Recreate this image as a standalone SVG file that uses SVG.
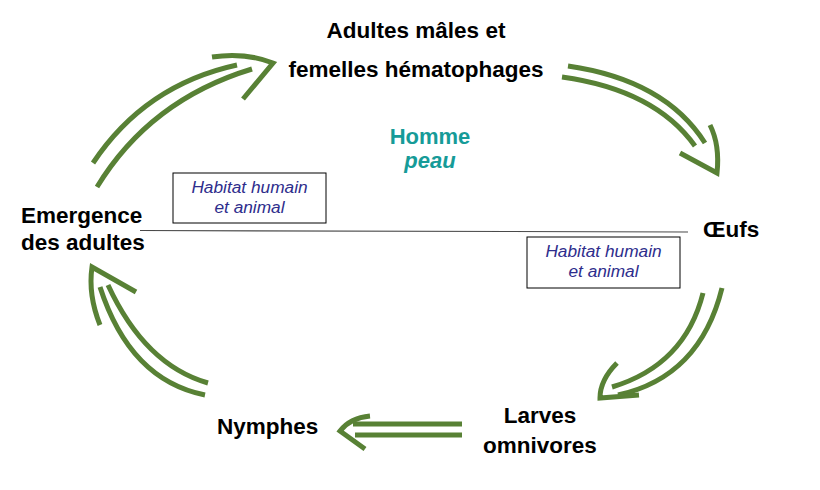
<svg xmlns="http://www.w3.org/2000/svg" width="820" height="490" viewBox="0 0 820 490">
<style>
.lbl{font-family:"Liberation Sans",Arial,sans-serif;font-weight:bold;font-size:22.5px;fill:#000}
.host{font-family:"Liberation Sans",Arial,sans-serif;font-weight:bold;font-size:22px;fill:#169b98}
.hab{font-family:"Liberation Sans",Arial,sans-serif;font-style:italic;font-size:17.3px;fill:#2e2d8c}
.box{fill:#fff;stroke:#000;stroke-width:1}
.arr{fill:none;stroke:#588135;stroke-width:5;stroke-linecap:butt;stroke-linejoin:miter}
</style>
<rect width="820" height="490" fill="#fff"/>
<g id="connectors">
  <line x1="140" y1="230.5" x2="688" y2="232" stroke="#4a4a4a" stroke-width="1.2"/>
  <g id="arrow-emergence-adultes">
    <path class="arr" d="M93,163 Q145,85 237,65"/>
    <path class="arr" d="M97,187 Q150,100 252,69"/>
    <path class="arr" d="M212,57 Q245,52 273,63 L243,99"/>
  </g>
  <g id="arrow-adultes-oeufs">
    <path class="arr" d="M568,66 Q665,80 705,143"/>
    <path class="arr" d="M562,77 Q655,90 695,146"/>
    <path class="arr" d="M710,125 Q720,145 717,173 L680,153"/>
  </g>
  <g id="arrow-oeufs-larves">
    <path class="arr" d="M722,288 Q700,377 618,395"/>
    <path class="arr" d="M703,293 Q685,365 612,387"/>
    <path class="arr" d="M617,363 Q600,380 600,398 L639,395"/>
  </g>
  <g id="arrow-larves-nymphes">
    <path class="arr" d="M353,424 L462,424"/>
    <path class="arr" d="M355,435 L462,435"/>
    <path class="arr" d="M370,416 Q350,418 340,431 L365,449"/>
  </g>
  <g id="arrow-nymphes-emergence">
    <path class="arr" d="M205,395 Q130,380 100,287"/>
    <path class="arr" d="M208,383 Q145,365 108,285"/>
    <path class="arr" d="M100,325 Q88,295 92,267 L136,292"/>
  </g>
</g>
<g id="node-adultes">
  <text class="lbl" x="416" y="38" text-anchor="middle" font-size="23">Adultes mâles et</text>
  <text class="lbl" x="416" y="77" text-anchor="middle" font-size="23">femelles hématophages</text>
</g>
<g id="node-homme">
  <text class="host" x="430" y="144" text-anchor="middle">Homme</text>
  <text class="host" x="430" y="168" text-anchor="middle" font-style="italic">peau</text>
</g>
<g id="node-oeufs">
  <text class="lbl" x="703" y="237" font-size="23">Œufs</text>
</g>
<g id="node-larves">
  <text class="lbl" x="540" y="423" text-anchor="middle">Larves</text>
  <text class="lbl" x="540" y="453" text-anchor="middle">omnivores</text>
</g>
<g id="node-nymphes">
  <text class="lbl" x="217" y="434">Nymphes</text>
</g>
<g id="node-emergence">
  <text class="lbl" x="21" y="223">Emergence</text>
  <text class="lbl" x="21" y="250">des adultes</text>
</g>
<g id="node-habitat-1">
  <rect class="box" x="173" y="173" width="153" height="50"/>
  <text class="hab" x="249.5" y="193" text-anchor="middle">Habitat humain</text>
  <text class="hab" x="249.5" y="213" text-anchor="middle">et animal</text>
</g>
<g id="node-habitat-2">
  <rect class="box" x="527" y="237" width="153" height="51"/>
  <text class="hab" x="603.5" y="257" text-anchor="middle">Habitat humain</text>
  <text class="hab" x="603.5" y="277" text-anchor="middle">et animal</text>
</g>
</svg>
